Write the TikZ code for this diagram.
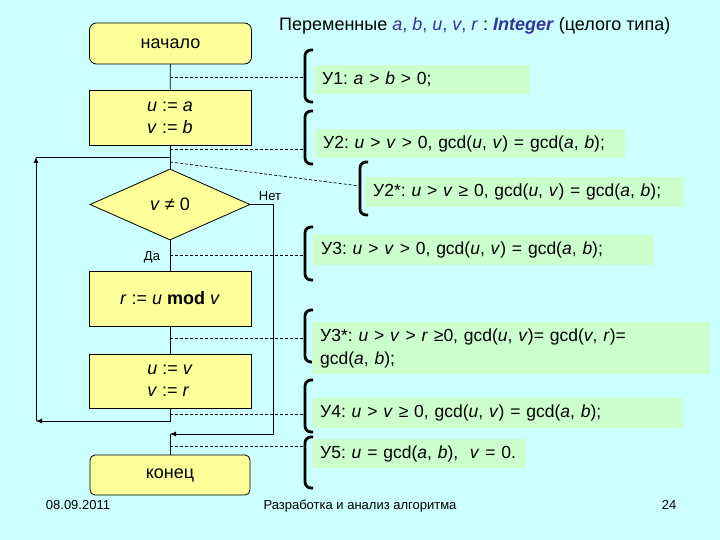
\documentclass[tikz,border=0pt]{standalone}
\usepackage{fontspec}
\setmainfont{Liberation Sans}
\usetikzlibrary{shapes.geometric,arrows.meta}
\definecolor{bg}{HTML}{CCFFFF}
\definecolor{yel}{HTML}{FFFF99}
\definecolor{grn}{HTML}{CCFFCC}
\definecolor{dblue}{HTML}{333399}
\frenchspacing
\begin{document}
\begin{tikzpicture}[x=1pt,y=-1pt,
  blk/.style={draw=black, line width=0.8pt, fill=yel, minimum width=162pt, minimum height=55pt,
    align=left, font=\fontsize{18}{22}\selectfont, inner sep=0pt},
  term/.style={blk, align=center, rounded corners=7pt, minimum height=41pt},
  dec/.style={diamond, draw=black, line width=0.8pt, fill=yel, minimum width=160pt, minimum height=71pt,
    aspect=2.25, inner sep=0pt, font=\fontsize{18}{22}\selectfont},
  gb/.style={fill=grn, draw=none, anchor=north west, inner xsep=8pt, inner ysep=0pt, align=left,
    minimum height=29pt, font=\fontsize{17.5}{23}\selectfont},
  flow/.style={line width=0.8pt},
  arr/.style={line width=0.8pt, -{Latex[length=6pt,width=5pt]}},
  dsh/.style={line width=0.7pt, dash pattern=on 3pt off 2pt},
  brk/.style={line width=2.8pt, rounded corners=6pt},
  lbl/.style={font=\fontsize{13}{15}\selectfont, inner sep=0pt},
  foot/.style={font=\fontsize{13}{15}\selectfont, inner sep=0pt, anchor=base}
]
\fill[bg] (0,0) rectangle (720,540);
\useasboundingbox (0,0) rectangle (720,540);

% title
\node[anchor=west, inner sep=0pt, font=\fontsize{18}{20}\selectfont] (title) at (279,26)
  {Переменные \textcolor{dblue}{\textit{a}, \textit{b}, \textit{u}, \textit{v}, \textit{r}} : \textcolor{dblue}{\textbf{\textit{Integer}}} (целого типа)};

% flowchart
\node[term] (start) at (170.5,43.5) {начало};
\node[blk] (init) at (170,117.5) {\textit{u} := \textit{a}\\\textit{v} := \textit{b}};
\node[dec] (dec) at (170,204.5) {\textit{v} ≠ 0};
\node[blk, align=center] (mod) at (170,298.5) {\textit{r} := \textit{u} \textbf{mod} \textit{v}};
\node[blk, minimum height=54pt] (upd) at (170,381) {\textit{u} := \textit{v}\\\textit{v} := \textit{r}};
\node[term, minimum width=160pt, minimum height=40pt, rounded corners=5pt] (end) at (170,475) {конец};

\node[lbl] (net) at (270,196) {Нет};
\node[lbl] (da) at (152,257) {Да};

\coordinate (jn) at (170,157);
\coordinate (lb) at (36,421);
\coordinate (lt) at (36,157);
\coordinate (nb) at (273,434);
\coordinate (ne) at (170,434);

\draw[flow] (start) -- (init);
\draw[flow] (init) -- (dec);
\draw[flow] (dec) -- (mod);
\draw[flow] (mod) -- (upd);
\draw[arr] (upd.south) |- (lb);
\draw[arr] (lb) -- (lt);
\draw[flow] (lt) -- (jn);
\draw[arr] (dec.east) -| (nb) -- (ne);
\draw[flow] (ne) -- (end.north);

% spine points for dashed lines
\coordinate (s1) at (170,77);
\coordinate (s2) at (170,149);
\coordinate (s2s) at (170,162);
\coordinate (s3) at (170,255);
\coordinate (s3s) at (170,338);
\coordinate (s4) at (170,414);
\coordinate (s5) at (170,446);

\coordinate (b1) at (305,77);
\coordinate (b2) at (305,149);
\coordinate (b2s) at (360,186);
\coordinate (b3) at (305,255);
\coordinate (b3s) at (305,338);
\coordinate (b4) at (305,414);
\coordinate (b5) at (305,446);

\draw[dsh] (s1) -- (b1);
\draw[dsh] (s2) -- (b2);
\draw[dsh] (s2s) -- (b2s);
\draw[dsh] (s3) -- (b3);
\draw[dsh] (s3s) -- (b3s);
\draw[dsh] (s4) -- (b4);
\draw[dsh] (s5) -- (b5);

% brackets
\draw[brk] (313,50) -- (305,50) -- (305,102) -- (313,102);
\draw[brk] (313,111) -- (305,111) -- (305,164) -- (313,164);
\draw[brk] (368,162) -- (360,162) -- (360,215) -- (368,215);
\draw[brk] (313,227) -- (305,227) -- (305,280) -- (313,280);
\draw[brk] (313,310) -- (305,310) -- (305,362) -- (313,362);
\draw[brk] (313,380) -- (305,380) -- (305,432) -- (313,432);
\draw[brk] (313,437) -- (305,437) -- (305,488) -- (313,488);

% condition boxes
\node[gb, text width=200pt] (y1) at (314,65) {\mbox{У1: \textit{a} > \textit{b} > 0;}};
\node[gb, text width=294pt] (y2) at (315,129) {\mbox{У2: \textit{u} > \textit{v} > 0, gcd(\textit{u}, \textit{v}) = gcd(\textit{a}, \textit{b});}};
\node[gb, text width=303pt, minimum height=30pt] (y2s) at (365,177) {\mbox{У2*: \textit{u} > \textit{v} ≥ 0, gcd(\textit{u}, \textit{v}) = gcd(\textit{a}, \textit{b});}};
\node[gb, text width=325pt, minimum height=30pt] (y3) at (313,235) {\mbox{У3: \textit{u} > \textit{v} > 0, gcd(\textit{u}, \textit{v}) = gcd(\textit{a}, \textit{b});}};
\node[gb, text width=382pt, minimum height=52pt] (y3s) at (312,322) {У3*: \textit{u} > \textit{v} > \textit{r} ≥0, gcd(\textit{u}, \textit{v})= gcd(\textit{v}, \textit{r})=\\gcd(\textit{a}, \textit{b});};
\node[gb, text width=355pt, minimum height=30pt] (y4) at (312,398) {\mbox{У4: \textit{u} > \textit{v} ≥ 0, gcd(\textit{u}, \textit{v}) = gcd(\textit{a}, \textit{b});}};
\node[gb, text width=198pt] (y5) at (312,439) {\mbox{У5: \textit{u} = gcd(\textit{a}, \textit{b}),~ \textit{v} = 0.}};

% footer
\node[foot] (date) at (78,509) {08.09.2011};
\node[foot] (course) at (360,509) {Разработка и анализ алгоритма};
\node[foot] (page) at (669,509) {24};
\end{tikzpicture}
\end{document}
